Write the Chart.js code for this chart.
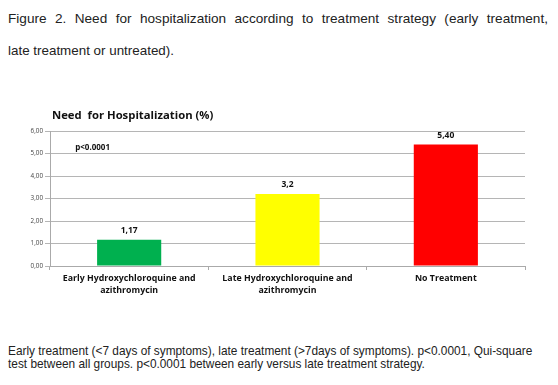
<!DOCTYPE html>
<html>
<head>
<meta charset="utf-8">
<script src="https://cdn.jsdelivr.net/npm/chart.js@4/dist/chart.umd.min.js"></script>
<style>
  body { margin: 0; background: #fff; width: 558px; height: 385px; position: relative; overflow: hidden; }
  .txt { position: absolute; font-family: "Liberation Sans", Arial, sans-serif; color: #222; white-space: nowrap; }
  #cap1 { left: 8px; top: 11px; width: 540px; font-size: 13.6px; text-align: justify; text-align-last: justify; }
  #cap2 { left: 8px; top: 43px; font-size: 13.4px; }
  #foot { left: 8px; top: 345px; font-size: 11.85px; line-height: 13px; }
  #box { position: absolute; left: 0; top: 100px; width: 558px; height: 200px; }
</style>
</head>
<body>
<div class="txt" id="cap1">Figure 2. Need for hospitalization according to treatment strategy (early treatment,</div>
<div class="txt" id="cap2">late treatment or untreated).</div>
<div id="box"><canvas id="hospChart"></canvas></div>
<div class="txt" id="foot">Early treatment (&lt;7 days of symptoms), late treatment (&gt;7days of symptoms). p&lt;0.0001, Qui-square<br>test between all groups. p&lt;0.0001 between early versus late treatment strategy.</div>

<script>
const categories = [
    ["Early Hydroxychloroquine and", "azithromycin"],
    ["Late Hydroxychloroquine and", "azithromycin"],
    "No Treatment"
];
const hospitalization = [1.17, 3.2, 5.40];
const valueLabels = ["1,17", "3,2", "5,40"];
const barColors = ["#00b04f", "#ffff00", "#ff0000"];
const chartTitle = "Need  for Hospitalization (%)";
const pNote = "p<0.0001";

const font = "'Open Sans', sans-serif";

// tytuł, etykiety wartości i adnotacja p
const extraText = {
    id: "extraText",
    afterDatasetsDraw(chart) {
        const ctx = chart.ctx;
        const area = chart.chartArea;
        const x = chart.scales.x;
        const y = chart.scales.y;
        ctx.save();
        ctx.fillStyle = "#111";
        ctx.textBaseline = "alphabetic";

        ctx.font = "bold 11.3px " + font;
        ctx.textAlign = "left";
        ctx.fillText(chartTitle, area.left + 2, area.top - 12);

        ctx.font = "bold 8px " + font;
        ctx.fillText(pNote, x.getPixelForValue(0) - 54, y.getPixelForValue(5.15));

        ctx.font = "bold 8.5px " + font;
        ctx.textAlign = "center";
        chart.getDatasetMeta(0).data.forEach((bar, i) => {
            ctx.fillText(valueLabels[i], bar.x, bar.y - 7);
        });
        ctx.restore();
    }
};

new Chart(document.getElementById("hospChart"), {
    type: "bar",
    data: {
        labels: categories,
        datasets: [{
            data: hospitalization,
            backgroundColor: barColors,
            categoryPercentage: 1,
            barPercentage: 0.405
        }]
    },
    options: {
        responsive: true,
        maintainAspectRatio: false,
        animation: false,
        layout: { padding: { top: 31, right: 33, left: 0, bottom: 0 } },
        plugins: {
            legend: { display: false },
            tooltip: { enabled: false }
        },
        scales: {
            x: {
                offset: true,
                grid: { offset: true, drawOnChartArea: false, tickLength: 4, color: "#aaa" },
                border: { color: "#aaa" },
                ticks: {
                    color: "#111",
                    font: { family: font, size: 8.8, weight: "bold", lineHeight: 1.3 },
                    padding: 3,
                    maxRotation: 0,
                    autoSkip: false
                },
                afterFit(scale) { scale.height = 34; }
            },
            y: {
                min: 0,
                max: 6,
                grid: { color: "#b5b5b5", tickLength: 5 },
                border: { color: "#aaa" },
                ticks: {
                    stepSize: 1,
                    color: "#444",
                    padding: 2,
                    font: { family: font, size: 6.3 },
                    callback: v => v.toFixed(2).replace(".", ",")
                },
                afterFit(scale) { scale.width = 50; }
            }
        }
    },
    plugins: [extraText]
});
</script>
</body>
</html>
